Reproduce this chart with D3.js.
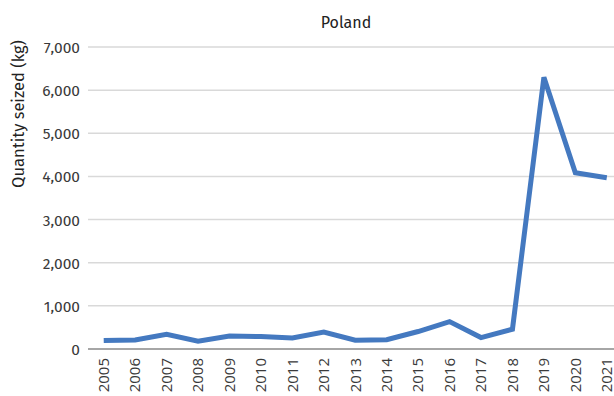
<!DOCTYPE html>
<html><head><meta charset="utf-8">
<script src="https://cdn.jsdelivr.net/npm/d3@7/dist/d3.min.js"></script>
<style>body{margin:0;background:#fff;overflow:hidden}svg{display:block}</style>
</head><body>
<svg id="c" width="614" height="396"></svg>
<script>
const years = ["2005","2006","2007","2008","2009","2010","2011","2012","2013","2014","2015","2016","2017","2018","2019","2020","2021"];
const values = [195, 210, 340, 180, 300, 290, 255, 395, 205, 215, 405, 635, 265, 460, 6300, 4085, 3970];
const yTicks = [0,1000,2000,3000,4000,5000,6000,7000];
const chartTitle = "Poland";
const yTitle = "Quantity seized (kg)";

(function(){
const svg = d3.select("#c");
const mL = 88, mR = 622.5, mT = 47, mB = 349;
const x = d3.scaleBand().domain(years).range([mL, mR]);
const y = d3.scaleLinear().domain([0,7000]).range([mB, mT]);

svg.append("g").selectAll("line").data(yTicks.filter(d=>d>0)).join("line")
  .attr("x1", mL).attr("x2", 614).attr("y1", d=>y(d)).attr("y2", d=>y(d))
  .attr("stroke", "#d9d9d9").attr("stroke-width", 1.5);

const yAxis = d3.axisLeft(y).tickValues(yTicks).tickSize(0).tickPadding(0)
  .tickFormat(d3.format(","));
const ya = svg.append("g").attr("transform", `translate(${mL-8},0)`).call(yAxis);
ya.select(".domain").remove();
ya.selectAll("text").attr("font-family","'Fira Sans','Open Sans',sans-serif")
  .attr("font-size", 15.5).attr("fill","#3a3a3a").attr("dy","0.35em");

const xAxis = d3.axisBottom(x).tickSize(0).tickPadding(0);
const xa = svg.append("g").attr("transform", `translate(0,${mB})`).call(xAxis);
xa.select(".domain").remove();
xa.selectAll("text").attr("font-family","'Open Sans',sans-serif").attr("font-size", 15)
  .attr("fill","#3a3a3a").attr("text-anchor","end")
  .attr("transform","translate(0,9) rotate(-90)").attr("dx","0").attr("dy","0.35em").attr("y",0);

svg.append("line").attr("x1", mL).attr("x2", 614).attr("y1", y(0)).attr("y2", y(0))
  .attr("stroke", "#a6a6a6").attr("stroke-width", 2);

const line = d3.line().x((d,i)=>x(years[i]) + x.bandwidth()/2).y(d=>y(d));
svg.append("path").datum(values).attr("d", line).attr("fill","none")
  .attr("stroke","#4479c0").attr("stroke-width",5).attr("stroke-linejoin","miter");

svg.append("text").attr("x", 346).attr("y", 28).attr("text-anchor","middle")
  .attr("font-family","'Fira Sans','Open Sans',sans-serif").attr("font-size",16).attr("fill","#222").text(chartTitle);

svg.append("text").attr("transform","translate(24,114) rotate(-90)").attr("text-anchor","middle")
  .attr("font-family","'Fira Sans','Open Sans',sans-serif").attr("font-size",16.5).attr("fill","#222").text(yTitle);
})();
</script>
</body></html>
